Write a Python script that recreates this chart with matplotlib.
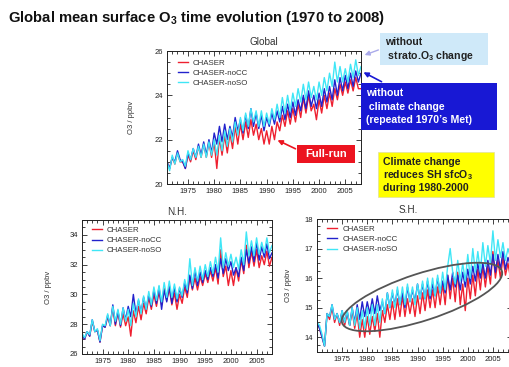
import matplotlib
matplotlib.use('Agg')
import matplotlib.pyplot as plt
from matplotlib.patches import Rectangle, Ellipse
from matplotlib.ticker import MultipleLocator
import numpy as np

plt.rcParams['font.family'] = ['Liberation Sans', 'DejaVu Sans']
plt.rcParams['mathtext.fontset'] = 'custom'
plt.rcParams['mathtext.rm'] = 'Liberation Sans:bold'
plt.rcParams['mathtext.default'] = 'rm'

# ---------------- data (two values per year: Jan, Jul) ----------------
years = np.arange(1970.0, 2008.51, 0.5)
series_names = ['CHASER', 'CHASER-noCC', 'CHASER-noSO']

glob_chaser = [21.1, 20.8, 21.0, 20.7, 21.2, 20.9, 21.4, 21.0, 21.0, 20.7,
               21.3, 21.0, 21.5, 21.1, 21.7, 21.2, 21.8, 21.2, 21.9, 21.2,
               21.9, 20.7, 22.1, 21.3, 22.2, 21.4, 22.3, 21.6, 22.6, 21.8,
               22.7, 22.0, 22.8, 22.1, 22.9, 22.2, 22.7, 22.0, 22.5, 21.8,
               22.4, 21.8, 22.6, 22.0, 22.8, 22.4, 23.1, 22.6, 23.3, 22.7,
               23.4, 22.8, 23.6, 23.0, 23.9, 23.2, 24.0, 23.3, 23.6, 22.9,
               23.8, 23.2, 24.0, 23.4, 24.1, 23.5, 24.3, 23.8, 24.5, 24.0,
               24.6, 24.1, 24.7, 24.2, 24.8, 24.3, 24.3, 24.3]
glob_nocc = [21.1, 20.8, 21.0, 20.7, 21.2, 21.0, 21.5, 21.1, 21.0, 20.7,
             21.4, 21.1, 21.6, 21.2, 21.8, 21.3, 21.9, 21.3, 22.0, 21.4,
             22.3, 21.8, 22.6, 21.9, 22.7, 22.0, 22.6, 22.1, 23.0, 22.4,
             22.9, 22.3, 23.1, 22.5, 23.4, 22.6, 23.2, 22.5, 23.1, 22.4,
             23.0, 22.6, 23.2, 22.7, 23.3, 22.8, 23.5, 22.9, 23.6, 23.0,
             23.7, 23.1, 23.8, 23.3, 24.0, 23.4, 24.2, 23.5, 24.0, 23.4,
             24.1, 23.5, 24.3, 23.7, 24.4, 23.8, 24.7, 24.0, 24.8, 24.2,
             24.9, 24.3, 25.0, 24.4, 25.1, 24.6, 25.0, 24.8]
glob_noso = [21.1, 20.7, 21.0, 20.6, 21.3, 20.9, 21.4, 21.0, 21.1, 20.8,
             21.5, 21.1, 21.6, 21.2, 21.7, 21.2, 21.8, 21.2, 21.9, 21.3,
             22.0, 21.3, 22.2, 21.5, 22.4, 21.7, 22.5, 21.9, 22.8, 22.2,
             23.0, 22.4, 23.2, 22.6, 23.4, 22.8, 23.3, 22.6, 23.3, 22.6,
             23.2, 22.7, 23.4, 22.9, 23.6, 23.0, 23.9, 23.2, 24.0, 23.3,
             24.1, 23.5, 24.3, 23.7, 24.5, 23.8, 24.6, 23.9, 24.4, 23.8,
             24.6, 24.0, 24.8, 24.2, 25.0, 24.4, 25.5, 24.6, 25.3, 24.6,
             25.2, 24.6, 25.4, 24.8, 25.6, 24.9, 25.3, 25.1]

nh_chaser = [27.2, 27.0, 27.3, 27.0, 27.5, 27.2, 28.2, 27.5, 27.6, 26.8,
             27.9, 27.8, 28.5, 27.9, 29.1, 27.9, 28.8, 27.8, 28.7, 27.9,
             28.5, 27.2, 28.9, 28.1, 29.2, 28.3, 29.4, 28.7, 29.8, 29.0,
             30.0, 29.2, 30.2, 29.3, 30.4, 29.6, 30.4, 29.3, 30.1, 29.0,
             30.0, 29.4, 30.5, 29.8, 31.2, 30.3, 31.1, 30.3, 31.2, 30.6,
             31.4, 30.8, 31.6, 30.9, 31.8, 30.7, 33.0, 31.2, 31.9, 30.6,
             31.6, 30.6, 31.8, 30.9, 32.3, 31.4, 33.3, 31.8, 32.9, 31.9,
             33.0, 31.8, 32.6, 32.0, 32.9, 31.9, 32.5, 32.2]
nh_nocc = [27.2, 27.0, 27.3, 27.0, 27.5, 27.2, 28.3, 27.5, 27.6, 26.8,
           27.9, 27.8, 28.6, 27.9, 29.3, 28.0, 28.9, 27.9, 29.1, 28.3,
           29.2, 28.5, 30.0, 28.7, 29.6, 28.8, 29.8, 29.0, 30.0, 29.2,
           30.3, 29.4, 30.5, 29.0, 30.3, 29.5, 30.6, 29.4, 30.5, 29.5,
           30.4, 29.8, 30.8, 30.1, 31.3, 30.4, 31.6, 30.6, 31.5, 30.8,
           31.6, 31.0, 31.8, 31.2, 32.0, 31.1, 32.4, 31.4, 32.4, 31.6,
           32.2, 31.3, 31.8, 31.2, 32.5, 31.6, 33.0, 32.1, 33.2, 32.2,
           33.5, 32.3, 33.2, 32.5, 33.4, 32.4, 32.8, 32.5]
nh_noso = [27.3, 27.1, 27.4, 27.1, 27.5, 27.3, 28.3, 27.5, 27.7, 26.9,
           28.0, 27.9, 28.7, 27.9, 29.2, 28.2, 29.0, 28.0, 29.1, 28.2,
           29.0, 27.9, 29.4, 28.5, 29.7, 28.7, 29.9, 29.0, 30.2, 29.3,
           30.5, 29.6, 30.6, 29.5, 30.8, 29.8, 30.9, 29.8, 30.7, 29.7,
           30.5, 29.9, 31.0, 30.3, 32.4, 30.6, 31.8, 30.9, 31.9, 31.0,
           32.0, 31.2, 32.2, 31.4, 32.5, 31.5, 33.8, 31.8, 32.8, 31.9,
           32.7, 31.8, 32.5, 31.7, 33.0, 32.0, 34.2, 32.6, 33.6, 32.6,
           33.8, 32.7, 33.5, 32.8, 33.8, 32.8, 33.3, 33.0]

sh_chaser = [14.5, 14.3, 14.0, 13.7, 14.8, 14.6, 15.0, 14.5, 14.8, 14.4,
             14.8, 14.4, 14.8, 14.4, 14.9, 14.3, 14.8, 14.0, 14.6, 14.0,
             14.7, 14.1, 14.7, 14.2, 14.8, 14.0, 14.9, 14.5, 15.1, 14.6,
             15.2, 14.6, 15.3, 14.7, 15.4, 14.7, 15.3, 14.8, 15.3, 14.7,
             15.4, 14.8, 15.5, 14.9, 15.6, 15.0, 15.6, 15.0, 15.7, 15.1,
             15.8, 15.1, 16.1, 15.3, 16.0, 15.2, 16.2, 15.1, 15.8, 14.9,
             16.0, 15.3, 16.1, 15.4, 16.3, 15.6, 16.4, 15.7, 16.4, 15.8,
             16.9, 16.0, 16.6, 16.0, 16.7, 16.1, 16.5, 16.0]
sh_nocc = [14.5, 14.3, 14.0, 13.7, 14.8, 14.7, 15.1, 14.6, 14.8, 14.5,
           14.9, 14.5, 14.9, 14.4, 15.0, 14.5, 15.1, 14.6, 15.2, 14.7,
           15.2, 14.8, 15.3, 14.8, 15.4, 14.9, 15.2, 14.8, 15.5, 15.0,
           15.5, 15.1, 15.6, 15.1, 15.5, 15.0, 15.7, 15.2, 15.6, 15.2,
           15.8, 15.3, 15.8, 15.3, 15.9, 15.3, 15.8, 15.4, 16.0, 15.5,
           15.9, 15.5, 16.1, 15.6, 16.2, 15.7, 16.1, 15.6, 16.2, 15.7,
           16.3, 15.8, 16.4, 15.9, 16.5, 16.0, 16.5, 16.0, 16.6, 16.1,
           16.8, 16.2, 16.8, 16.3, 16.9, 16.3, 16.7, 16.4]
sh_noso = [14.5, 14.4, 14.1, 13.7, 14.8, 14.7, 15.1, 14.6, 14.8, 14.5,
           14.9, 14.5, 14.9, 14.4, 15.0, 14.4, 15.0, 14.3, 14.9, 14.3,
           15.0, 14.4, 15.1, 14.4, 15.1, 14.5, 15.3, 14.8, 15.5, 15.0,
           15.6, 15.0, 15.7, 15.1, 15.7, 15.1, 15.8, 15.2, 15.7, 15.1,
           15.8, 15.3, 15.9, 15.3, 16.0, 15.4, 16.0, 15.4, 16.1, 15.5,
           16.2, 15.6, 16.4, 17.0, 16.2, 15.8, 16.6, 15.9, 16.5, 15.9,
           16.8, 16.0, 17.0, 16.2, 16.9, 16.2, 17.2, 16.4, 17.1, 16.5,
           17.6, 16.6, 17.3, 16.7, 17.2, 16.6, 17.0, 16.7]

xticks = [1975, 1980, 1985, 1990, 1995, 2000, 2005]
colors = ['#ee2030', '#2222cc', '#3fe6f6']

W, H = 510, 367
fig = plt.figure(figsize=(W / 100, H / 100), dpi=100)
fig.patch.set_facecolor('white')


def px_rect(left, top, right, bottom):
    return [left / W, (H - bottom) / H, (right - left) / W, (bottom - top) / H]


def panel(rect, data, xlim, ylim, ymin, yticks, ylab_x, leg_xy):
    ax = fig.add_axes(px_rect(*rect))
    for vals, c, name in zip(data, colors, series_names):
        ax.plot(years, vals, color=c, lw=1.0, label=name)
    ax.set_xlim(*xlim)
    ax.set_ylim(*ylim)
    ax.set_xticks(xticks)
    ax.set_yticks(yticks)
    ax.xaxis.set_minor_locator(MultipleLocator(1))
    ax.yaxis.set_minor_locator(MultipleLocator(ymin))
    ax.tick_params(which='both', direction='in', top=True, right=True,
                   labelsize=5.5, width=0.6, colors='#222222', pad=3)
    ax.tick_params(which='major', length=3.5)
    ax.tick_params(which='minor', length=2)
    for s in ax.spines.values():
        s.set_linewidth(0.7)
        s.set_color('#222222')
    ax.set_ylabel('O3 / ppbv', fontsize=5.5, color='#333333')
    ax.yaxis.set_label_coords(ylab_x, 0.5)
    ax.legend(loc='upper left', bbox_to_anchor=leg_xy, frameon=False,
              fontsize=5.7, handlelength=1.35, handletextpad=0.6,
              labelspacing=0.32, borderpad=0, borderaxespad=0,
              labelcolor='#333333')
    return ax


panel((167, 51, 361, 184), [glob_chaser, glob_nocc, glob_noso],
      (1971.0, 2008.0), (20, 26), 0.5, [20, 22, 24, 26], -0.165, (0.055, 0.94))
panel((82, 220, 272, 354), [nh_chaser, nh_nocc, nh_noso],
      (1971.0, 2008.0), (26, 35), 0.5, [26, 28, 30, 32, 34], -0.16, (0.05, 0.95))
panel((317, 219, 512, 352), [sh_chaser, sh_nocc, sh_noso],
      (1970.0, 2008.8), (13.5, 18), 0.25, [14, 15, 16, 17, 18], -0.13, (0.05, 0.95))

# ---------------- overlay (pixel coordinates) ----------------
ov = fig.add_axes([0, 0, 1, 1], zorder=10)
ov.set_xlim(0, W)
ov.set_ylim(H, 0)
ov.axis('off')
ov.patch.set_alpha(0)

ov.text(8, 18, 'Global mean surface O$_3$ time evolution (1970 to 2008)',
        fontsize=10.7, fontweight='bold', color='#111111', va='center', ha='left')

ov.text(264, 42, 'Global', fontsize=7.2, color='#333333', ha='center', va='center')
ov.text(177, 212, 'N.H.', fontsize=7.2, color='#333333', ha='center', va='center')
ov.text(408, 210, 'S.H.', fontsize=7.2, color='#333333', ha='center', va='center')

# light blue box
ov.add_patch(Rectangle((380, 33), 108, 32, facecolor='#cfe9f9', edgecolor='none'))
ov.text(385, 42, 'without', fontsize=7.6, fontweight='bold', color='#222222', va='center')
ov.text(385, 56, ' strato.O$_3$ change', fontsize=7.6, fontweight='bold', color='#222222', va='center')
ov.annotate('', xy=(362, 56), xytext=(381, 49),
            arrowprops=dict(arrowstyle='-|>', color='#aaaaea', lw=1.0, mutation_scale=7))

# blue box
ov.add_patch(Rectangle((361, 83), 136, 47, facecolor='#1818d4', edgecolor='none'))
ov.text(366, 93, 'without', fontsize=7.6, fontweight='bold', color='white', va='center')
ov.text(366, 107, ' climate change', fontsize=7.6, fontweight='bold', color='white', va='center')
ov.text(366, 120, '(repeated 1970\u2019s Met)', fontsize=7.6, fontweight='bold', color='white', va='center')
ov.annotate('', xy=(361, 71), xytext=(384, 83),
            arrowprops=dict(arrowstyle='-|>', color='#1818d4', lw=1.2, mutation_scale=7))

# red box
ov.add_patch(Rectangle((297, 145), 58, 18, facecolor='#ec1420', edgecolor='none'))
ov.text(326, 154, 'Full-run', fontsize=8, fontweight='bold', color='white',
        va='center', ha='center')
ov.annotate('', xy=(275, 139), xytext=(298, 150),
            arrowprops=dict(arrowstyle='-|>', color='#ec1420', lw=1.2, mutation_scale=7))

# yellow box
ov.add_patch(Rectangle((378, 152), 116, 45, facecolor='#ffff00', edgecolor='#e0e0a0', lw=0.5))
ov.text(383, 162, 'Climate change', fontsize=7.6, fontweight='bold', color='#222222', va='center')
ov.text(383, 175, 'reduces SH sfcO$_3$', fontsize=7.6, fontweight='bold', color='#222222', va='center')
ov.text(383, 188, 'during 1980-2000', fontsize=7.6, fontweight='bold', color='#222222', va='center')

# ellipse in S.H. panel
ov.add_patch(Ellipse((422, 297), 168, 47, angle=-18, facecolor='none',
                     edgecolor='#555555', lw=1.3))

fig.savefig('out.png', dpi=100)
